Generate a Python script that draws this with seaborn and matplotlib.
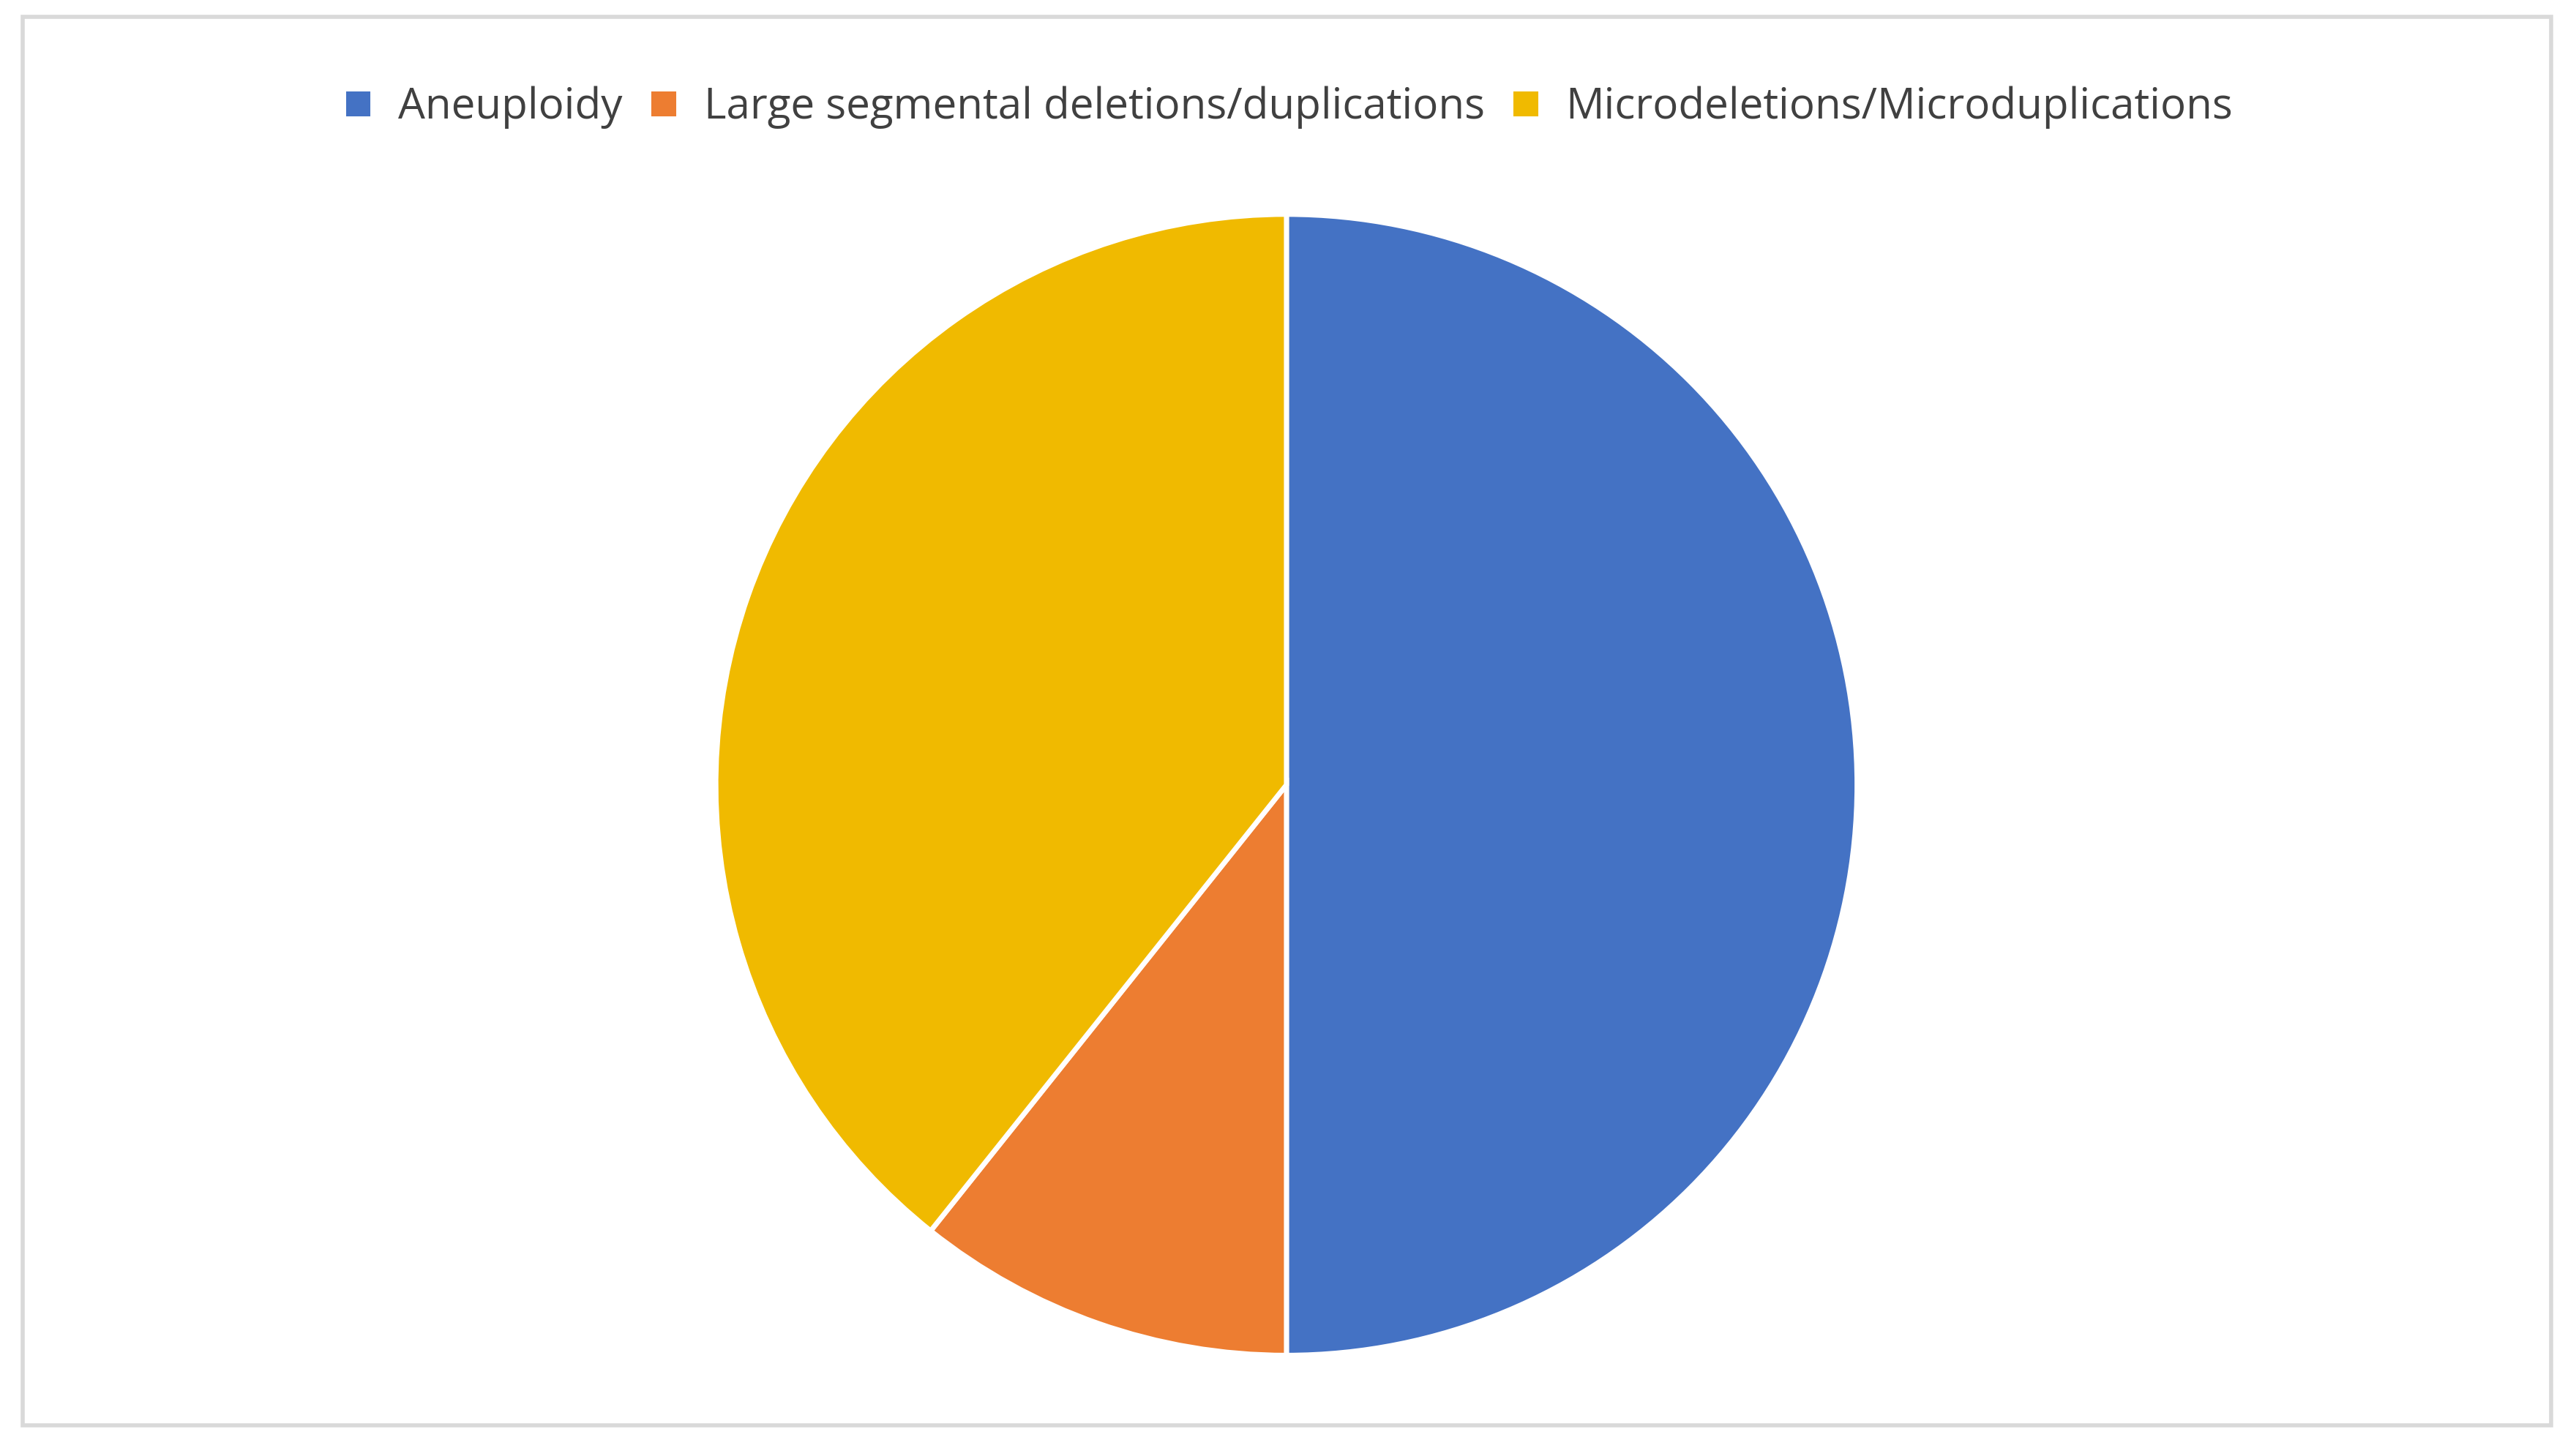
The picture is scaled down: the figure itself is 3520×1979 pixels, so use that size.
import matplotlib
matplotlib.use("Agg")
import matplotlib.pyplot as plt
import seaborn as sns
from matplotlib.patches import Rectangle

sns.set_theme(style="white")
plt.rcParams['font.family'] = ['Open Sans', 'DejaVu Sans']

# data
labels = ["Aneuploidy", "Large segmental deletions/duplications", "Microdeletions/Microduplications"]
counts = [14, 3, 11]
colors = ["#4472C4", "#ED7D31", "#F0BA00"]

fig = plt.figure(figsize=(17.6, 9.895), dpi=200)
fig.patch.set_facecolor("white")

# light grey frame around the chart area
fig.add_artist(Rectangle((0.0089, 0.0159), 0.9815, 0.9727, transform=fig.transFigure,
                         fill=False, edgecolor="#D9D9D9", linewidth=2))

ax = fig.add_axes([0.4994 - 0.2216, 0.458 - 0.394, 0.4432, 0.788])
wedges, _ = ax.pie(counts, colors=colors, startangle=90, counterclock=False,
                   wedgeprops=dict(edgecolor="white", linewidth=2.5))
ax.set_xlim(-1, 1)
ax.set_ylim(-1, 1)
ax.set_aspect("equal")

fig.legend(wedges, labels, loc="center", bbox_to_anchor=(0.5, 0.926), ncol=3,
           frameon=False, fontsize=21, handlelength=0.7, handleheight=0.7,
           handletextpad=0.6, columnspacing=0.6, labelcolor="#404040")

fig.savefig("out.png", dpi=200, facecolor="white")
